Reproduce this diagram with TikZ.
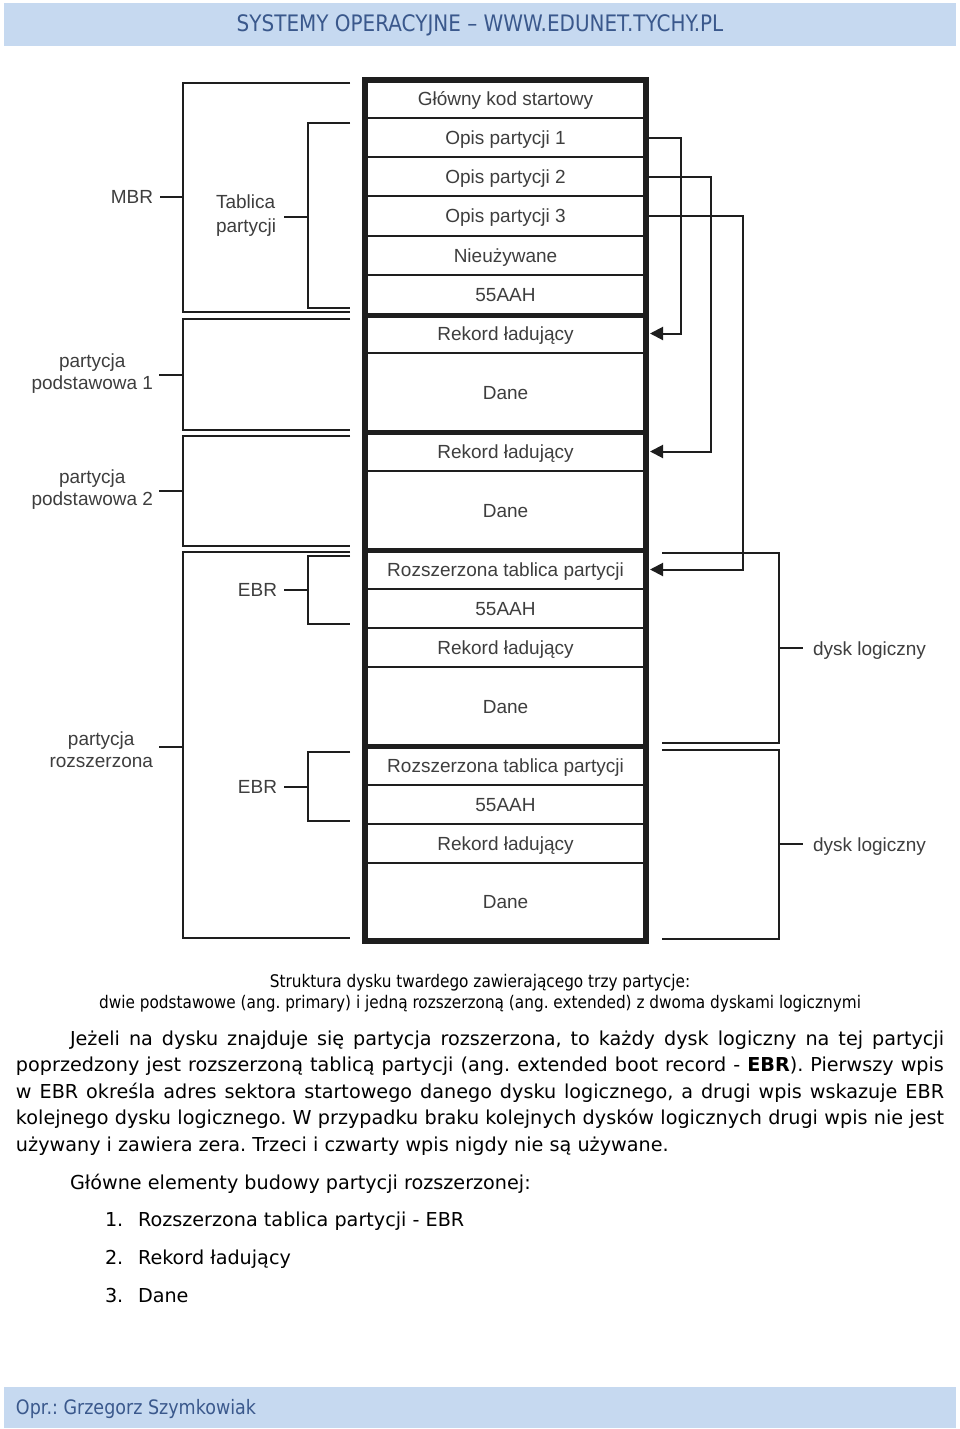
\documentclass[tikz,border=0pt]{standalone}
\usepackage{fontspec}
\setmainfont{Liberation Sans}
\newfontfamily\verd{DejaVu Sans}
\newfontfamily\tah[FakeStretch=0.88]{DejaVu Sans}
\usetikzlibrary{arrows.meta}
\definecolor{barblue}{RGB}{198,217,240}
\definecolor{hdrtext}{RGB}{58,88,140}
\definecolor{lc}{RGB}{30,30,30}
\definecolor{tx}{RGB}{62,62,62}
\frenchspacing
\begin{document}
\begin{tikzpicture}[x=1pt,y=-1pt,
  every node/.style={inner sep=0pt, outer sep=0pt},
  rowtxt/.style={font=\fontsize{19}{22}\selectfont, text=tx, text height=13.6pt, text depth=0pt, minimum width=281pt},
  lbl/.style={font=\fontsize{19}{22}\selectfont, text=tx, align=center},
  lblc/.style={font=\fontsize{19}{22}\selectfont, text=tx, text height=13.6pt, text depth=0pt},
  ln/.style={draw=lc, line width=2pt},
  septhin/.style={draw=lc, line width=2pt},
  septhick/.style={draw=lc, line width=5pt},
  framest/.style={draw=lc, line width=6pt},
  arr/.style={draw=lc, line width=2pt, -{Triangle[length=13pt,width=13pt]}},
  bar/.style={fill=barblue, draw=none},
  hdr/.style={font=\tah\fontsize{22.7}{25}\selectfont, text=hdrtext},
  body/.style={font=\verd\fontsize{19.2}{24}\selectfont, text=black, anchor=base west},
  capt/.style={font=\tah\fontsize{17.4}{20}\selectfont, text=black, anchor=base}
]
\useasboundingbox (0,0) rectangle (960,1429);
\fill[white] (0,0) rectangle (960,1429);

% header and footer bars
\fill[bar] (4,3) rectangle (956,46);
\node[hdr, anchor=base] (hdrtxt) at (480,32) {SYSTEMY OPERACYJNE – WWW.EDUNET.TYCHY.PL};
\fill[bar] (4,1387) rectangle (956,1428);
\node[hdr, font=\tah\fontsize{19.9}{22}\selectfont, anchor=base west] (ftrtxt) at (16,1414) {Opr.: Grzegorz Szymkowiak};

% central column: separators
\foreach \yy in {118,157,196,236,275,353,471,589,628,667,785,824,863}
  \draw[septhin] (365,\yy) -- (646,\yy);
\foreach \yy in {315,432,550,746}
  \draw[septhick] (365,\yy) -- (646,\yy);
\draw[framest] (365,80) rectangle (646,941);

% row texts
\node[rowtxt] (gks)  at (505.5,99)    {Główny kod startowy};
\node[rowtxt] (op1)  at (505.5,137.5) {Opis partycji 1};
\node[rowtxt] (op2)  at (505.5,176.5) {Opis partycji 2};
\node[rowtxt] (op3)  at (505.5,216)   {Opis partycji 3};
\node[rowtxt] (nieu) at (505.5,255.5) {Nieużywane};
\node[rowtxt] (sg0)  at (505.5,294.5) {55AAH};
\node[rowtxt] (rl1)  at (505.5,333.5) {Rekord ładujący};
\node[rowtxt] (d1)   at (505.5,392.5) {Dane};
\node[rowtxt] (rl2)  at (505.5,451.5) {Rekord ładujący};
\node[rowtxt] (d2)   at (505.5,510.5) {Dane};
\node[rowtxt] (ert1) at (505.5,569.5) {Rozszerzona tablica partycji};
\node[rowtxt] (sg1)  at (505.5,608.5) {55AAH};
\node[rowtxt] (rl3)  at (505.5,647.5) {Rekord ładujący};
\node[rowtxt] (d3)   at (505.5,706.5) {Dane};
\node[rowtxt] (ert2) at (505.5,765.5) {Rozszerzona tablica partycji};
\node[rowtxt] (sg2)  at (505.5,804.5) {55AAH};
\node[rowtxt] (rl4)  at (505.5,843.5) {Rekord ładujący};
\node[rowtxt] (d4)   at (505.5,902)   {Dane};

% pointer arrows
\draw[arr] ([xshift=3pt]op1.east) -- ++(32,0) |- ([xshift=4pt]rl1.east);
\draw[arr] ([xshift=3pt]op2.east) -- ++(62,0) |- ([xshift=4pt]rl2.east);
\draw[arr] ([xshift=3pt]op3.east) -- ++(94,0) |- ([xshift=4pt]ert1.east);

% left brackets
\draw[ln] (350,83) -- (183,83) -- (183,312) -- (350,312);
\draw[ln] (350,123) -- (308,123) -- (308,308) -- (350,308);
\draw[ln] (350,319) -- (183,319) -- (183,430) -- (350,430);
\draw[ln] (350,436) -- (183,436) -- (183,546) -- (350,546);
\draw[ln] (350,552) -- (183,552) -- (183,938) -- (350,938);
\draw[ln] (350,556) -- (308,556) -- (308,624) -- (350,624);
\draw[ln] (350,752) -- (308,752) -- (308,821) -- (350,821);

\coordinate (bmbr) at (183,197);
\coordinate (btab) at (308,217);
\coordinate (bp1) at (183,375);
\coordinate (bp2) at (183,491);
\coordinate (bext) at (183,747);
\coordinate (bebr1) at (308,590);
\coordinate (bebr2) at (308,787);

\node[lblc, anchor=east, inner xsep=7pt] (mbr) at (160,197) {MBR};
\node[lbl, anchor=west, align=left, font=\fontsize{19}{24}\selectfont] (tab) at (216,216) {Tablica\\partycji};
\coordinate (tabt) at (284,217);
\node[lbl, anchor=east, inner xsep=6pt] (pp1) at (159,373.5) {partycja\\podstawowa 1};
\node[lbl, anchor=east, inner xsep=6pt] (pp2) at (159,490) {partycja\\podstawowa 2};
\node[lbl, anchor=east, inner xsep=6pt] (prz) at (159,749.5) {partycja\\rozszerzona};
\node[lblc, anchor=east, inner xsep=7pt] (ebr1) at (284,590) {EBR};
\node[lblc, anchor=east, inner xsep=7pt] (ebr2) at (284,787) {EBR};

\draw[ln] (mbr.east) -- (bmbr);
\draw[ln] (tabt) -- (btab);
\draw[ln] (pp1.east |- bp1) -- (bp1);
\draw[ln] (pp2.east |- bp2) -- (bp2);
\draw[ln] (prz.east |- bext) -- (bext);
\draw[ln] (ebr1.east) -- (bebr1);
\draw[ln] (ebr2.east) -- (bebr2);

% right brackets (logical disks)
\draw[ln] (662,553) -- (779,553) -- (779,743) -- (662,743);
\draw[ln] (662,750) -- (779,750) -- (779,939) -- (662,939);
\coordinate (bdl1) at (779,648);
\coordinate (bdl2) at (779,844);
\node[lbl, anchor=west, inner xsep=10pt, text height=13.6pt, text depth=0pt] (dl1) at (803,649) {dysk logiczny};
\node[lbl, anchor=west, inner xsep=10pt, text height=13.6pt, text depth=0pt] (dl2) at (803,845) {dysk logiczny};
\draw[ln] (bdl1) -- (dl1.west |- bdl1);
\draw[ln] (bdl2) -- (dl2.west |- bdl2);

% caption
\node[capt] (cap1) at (480,987) {Struktura dysku twardego zawierającego trzy partycje:};
\node[capt] (cap2) at (480,1008) {dwie podstawowe (ang. primary) i jedną rozszerzoną (ang. extended) z dwoma dyskami logicznymi};

% body text
\node[body] (b1) at (70,1045) {\makebox[874pt][s]{Jeżeli na dysku znajduje się partycja rozszerzona, to każdy dysk logiczny na tej partycji}};
\node[body] (b2) at (16,1071) {\makebox[928pt][s]{poprzedzony jest rozszerzoną tablicą partycji (ang. extended boot record - {\bfseries EBR}). Pierwszy wpis}};
\node[body] (b3) at (16,1098) {\makebox[928pt][s]{w EBR określa adres sektora startowego danego dysku logicznego, a drugi wpis wskazuje EBR}};
\node[body] (b4) at (16,1124) {\makebox[928pt][s]{kolejnego dysku logicznego. W przypadku braku kolejnych dysków logicznych drugi wpis nie jest}};
\node[body] (b5) at (16,1151) {używany i zawiera zera. Trzeci i czwarty wpis nigdy nie są używane.};

\node[body] (gl) at (70,1189) {Główne elementy budowy partycji rozszerzonej:};
\node[body] (n1) at (105,1226) {1.};
\node[body] (t1) at (138,1226) {Rozszerzona tablica partycji - EBR};
\node[body] (n2) at (105,1264) {2.};
\node[body] (t2) at (138,1264) {Rekord ładujący};
\node[body] (n3) at (105,1302) {3.};
\node[body] (t3) at (138,1302) {Dane};
\end{tikzpicture}
\end{document}
